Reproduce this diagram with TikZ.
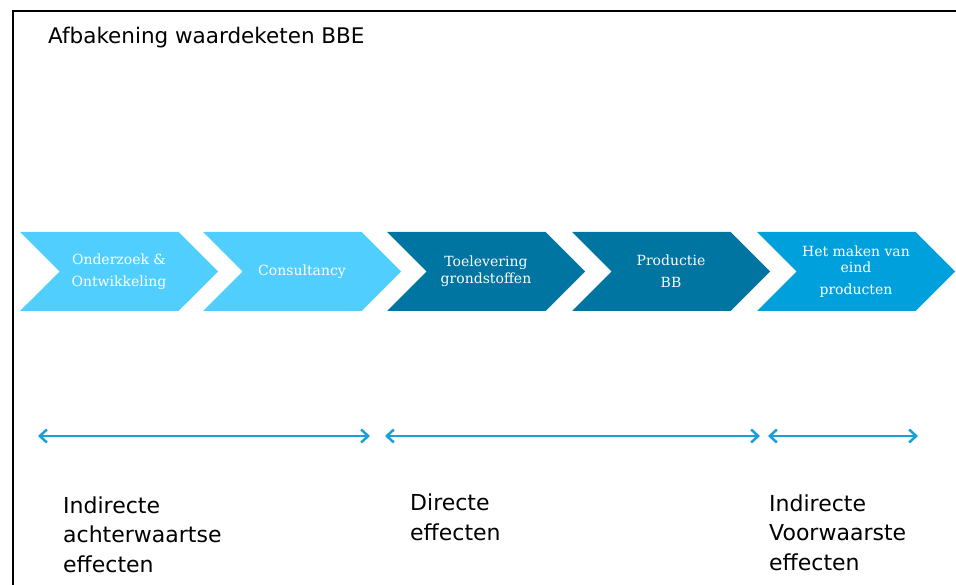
\documentclass[tikz,border=0pt]{standalone}
\usepackage{fontspec}
\setmainfont{DejaVu Sans}
\newfontfamily\chevronfont{DejaVu Serif}
\usetikzlibrary{shapes.symbols,arrows.meta}

\definecolor{chainlight}{HTML}{50CFFF}
\definecolor{chaindark}{HTML}{0075A2}
\definecolor{chainmid}{HTML}{00A0DC}
\definecolor{arrowblue}{HTML}{1A9FD8}

\begin{document}
\begin{tikzpicture}[x=1pt,y=-1pt,
	schakel/.style={signal,signal from=west,signal to=east,signal pointer angle=90,
		minimum width=198pt,minimum height=79pt,inner sep=0pt,text=white,align=center,
		font=\chevronfont\fontsize{14}{22}\selectfont},
	effect/.style={anchor=base west,align=left,inner sep=0pt,font=\fontsize{22}{29.5}\selectfont},
	bereik/.style={draw=arrowblue,line width=2.5pt,
		{Straight Barb[length=7pt,width=13pt]}-{Straight Barb[length=7pt,width=13pt]}}]
		\useasboundingbox (0,0) rectangle (956,585);
		\draw[line width=2pt] (12.5,585) -- (12.5,11) -- (956,11);

		\node[anchor=base west,inner sep=0pt,font=\fontsize{21.5}{25}\selectfont] (titel) at (48,44) {Afbakening waardeketen BBE};

		\node[schakel,fill=chainlight] (onderzoek) at (119,271.5) {Onderzoek \&\\Ontwikkeling};
		\node[schakel,fill=chainlight] (consult)   at (302,271.5) {Consultancy};
		\node[schakel,fill=chaindark]  (toelever)  at (486,271.5) {Toelevering\\[-5pt]grondstoffen};
		\node[schakel,fill=chaindark]  (productie) at (671,271.5) {Productie\\BB};
		\node[schakel,fill=chainmid]   (eindprod)  at (856,271.5) {Het maken van\\[-6pt]eind\\producten};

		\coordinate (a1) at (38,436);  \coordinate (b1) at (370,436);
		\coordinate (a2) at (385,436); \coordinate (b2) at (760,436);
		\coordinate (a3) at (768,436); \coordinate (b3) at (918,436);
		\foreach \from/\to in {a1/b1,a2/b2,a3/b3}
			\draw[bereik] (\from) -- (\to);

		% base anchor sits on the last line
		\node[effect] (achter) at (63,572)  {Indirecte\\achterwaartse\\effecten};
		\node[effect] (direct) at (410,540) {Directe\\effecten};
		\node[effect] (voor)   at (769,570) {Indirecte\\Voorwaarste\\effecten};
	\end{tikzpicture}
\end{document}
